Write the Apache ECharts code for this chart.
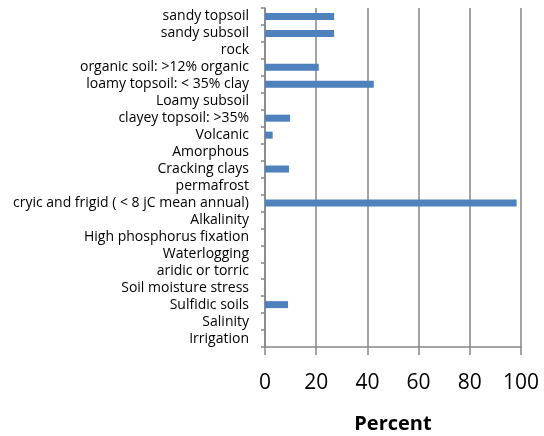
<!DOCTYPE html>
<html>
<head>
<meta charset="utf-8">
<script src="https://cdn.jsdelivr.net/npm/echarts@6/dist/echarts.min.js"></script>
<style>
  html, body { margin: 0; padding: 0; background: #fff; }
  #chart { width: 544px; height: 436px; }
</style>
</head>
<body>
<div id="chart"></div>
<script>
// categories, top to bottom
var categories = [
  'sandy topsoil',
  'sandy subsoil',
  'rock',
  'organic soil: >12% organic',
  'loamy topsoil: < 35% clay',
  'Loamy subsoil',
  'clayey topsoil: >35%',
  'Volcanic',
  'Amorphous',
  'Cracking clays',
  'permafrost',
  'cryic and frigid ( < 8 jC mean annual)',
  'Alkalinity',
  'High phosphorus fixation',
  'Waterlogging',
  'aridic or torric',
  'Soil moisture stress',
  'Sulfidic soils',
  'Salinity',
  'Irrigation'
]
var percentValues = [27, 27, 0, 21, 42.5, 0, 9.8, 3, 0, 9.4, 0, 98.3, 0, 0, 0, 0, 0, 9, 0, 0]
var xTicks = { min: 0, max: 100, interval: 20 }

var myChart = echarts.init(document.getElementById('chart'))
var gray = '#868686'
var font = 'Open Sans'

var option = {
  animation: false,
  grid: {
    left: 265,
    right: 23,
    top: 8,
    bottom: 89,
    containLabel: false,
    outerBoundsMode: 'none'
  },
  xAxis: {
    type: 'value',
    min: xTicks.min,
    max: xTicks.max,
    interval: xTicks.interval,
    name: 'Percent',
    nameLocation: 'middle',
    nameGap: 67,
    nameTextStyle: {
      color: '#000',
      fontSize: 20,
      fontWeight: 'bold',
      fontFamily: font
    },
    axisLine: { show: true, lineStyle: { color: gray, width: 1.5 } },
    axisTick: { show: true, length: 8, lineStyle: { color: gray, width: 1.5 } },
    axisLabel: {
      color: '#000',
      fontSize: 21,
      fontFamily: font,
      margin: 26
    },
    splitLine: { show: true, lineStyle: { color: gray, width: 1.5 } }
  },
  yAxis: {
    type: 'category',
    inverse: true,
    data: categories,
    axisLine: { show: true, lineStyle: { color: gray, width: 1.5 } },
    axisTick: { show: true, interval: 0, length: 4, lineStyle: { color: gray, width: 1.5 } },
    axisLabel: {
      interval: 0,
      color: '#000',
      fontSize: 14,
      fontFamily: font,
      margin: 16
    }
  },
  series: [
    {
      type: 'bar',
      data: percentValues,
      barWidth: 7,
      itemStyle: { color: '#4F81BD' }
    }
  ]
}

myChart.setOption(option)
</script>
</body>
</html>
